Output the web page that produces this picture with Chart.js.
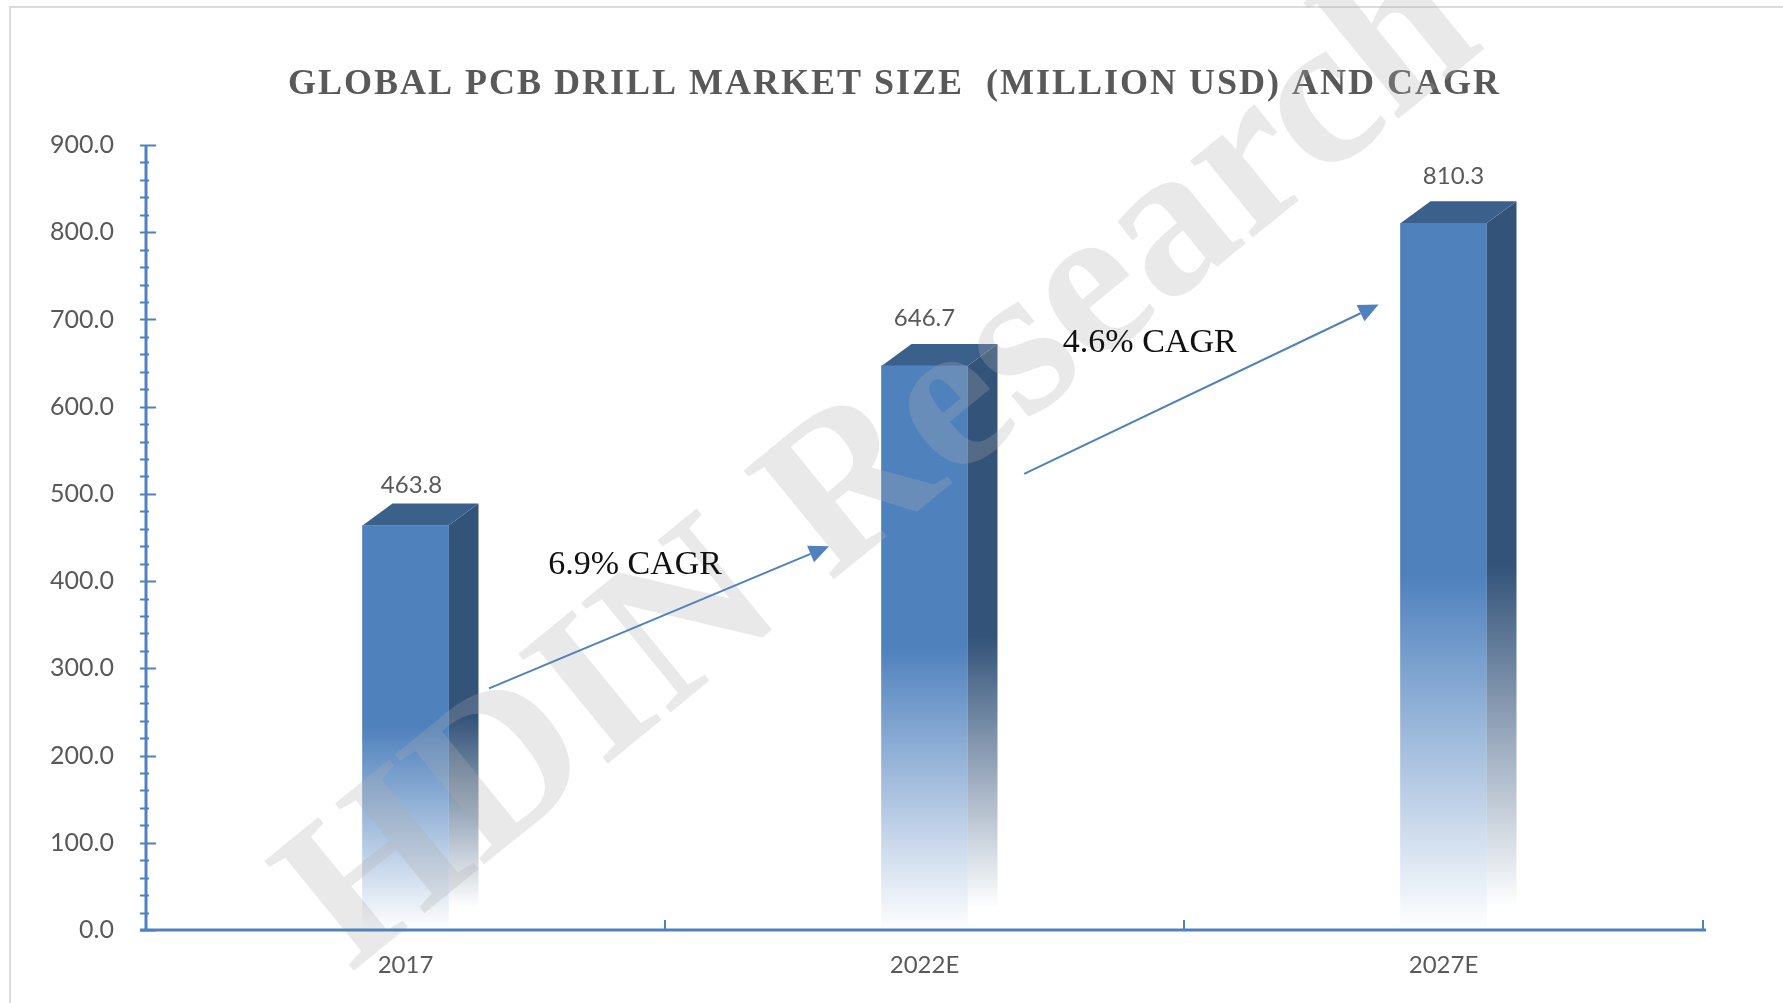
<!DOCTYPE html>
<html><head><meta charset="utf-8">
<style>html,body{margin:0;padding:0;background:#fff;overflow:hidden}#w{width:1783px;height:1003px}canvas{display:block;filter:blur(0.5px)}</style>
<script src="https://cdn.jsdelivr.net/npm/chart.js@4/dist/chart.umd.min.js"></script>
</head><body><div id="w"><canvas id="c" width="1783" height="1003"></canvas></div>
<script>
const categories = ['2017', '2022E', '2027E'];
const marketSize = [463.8, 646.7, 810.3];
const titleText = 'GLOBAL PCB DRILL MARKET SIZE  (MILLION USD) AND CAGR';
const watermarkText = 'HDIN Research';
const cagrLabels = ['6.9% CAGR', '4.6% CAGR'];
const cagrLabelCat = [0.4425, 1.434];
const cagrLabelVal = [418.5, 672.5];
const arrowFromCat = [0.161, 1.192];
const arrowFromVal = [277, 523];
const arrowToCat = [0.816, 1.875];
const arrowToVal = [440, 717];

const BLUE = '#4f81bd', SIDE = '#335379', TOP = '#3c608c', TXT = '#595959';
const DEPTH_X = 30, DEPTH_Y = 22;
const valueLabelDX = [6, 0, 10], valueLabelDY = [-18, -26, -25];

function fade(ctx, y0, y1, color) {
  const g = ctx.createLinearGradient(0, y0, 0, y1);
  g.addColorStop(0, color); g.addColorStop(0.5, color); g.addColorStop(1, 'rgba(255,255,255,1)');
  return g;
}
const extras = {
  id: 'extras',
  afterLayout(chart) {
    const t = chart.titleBlock;
    if (t && !t._spaced) {
      const orig = t.draw;
      t.draw = function () {
        const c = chart.ctx;
        c.save();
        c.translate(43, 0);
        c.letterSpacing = '2px';
        orig.call(this);
        c.letterSpacing = '0px';
        c.restore();
      };
      t._spaced = true;
    }
  },
  beforeDraw(chart) {
    const c = chart.ctx;
    c.save(); c.fillStyle = '#fff'; c.fillRect(0, 0, 1783, 1003);
    c.strokeStyle = '#dcdcdc'; c.lineWidth = 2;
    c.beginPath(); c.moveTo(10, 1003); c.lineTo(10, 7); c.lineTo(1783, 7); c.stroke();
    c.restore();
  },
  beforeDatasetsDraw(chart) {
    const c = chart.ctx, meta = chart.getDatasetMeta(0);
    meta.data.forEach(b => {
      const p = b.getProps(['x', 'y', 'base', 'width'], true);
      const L = p.x - p.width / 2, R = p.x + p.width / 2;
      c.save();
      c.fillStyle = fade(c, p.y, p.base - DEPTH_Y, SIDE);
      c.beginPath(); c.moveTo(R, p.y); c.lineTo(R + DEPTH_X, p.y - DEPTH_Y); c.lineTo(R + DEPTH_X, p.base - DEPTH_Y); c.lineTo(R, p.base); c.closePath(); c.fill();
      c.fillStyle = TOP;
      c.beginPath(); c.moveTo(L, p.y); c.lineTo(L + DEPTH_X, p.y - DEPTH_Y); c.lineTo(R + DEPTH_X, p.y - DEPTH_Y); c.lineTo(R, p.y); c.closePath(); c.fill();
      c.restore();
    });
  },
  afterDatasetsDraw(chart) {
    const c = chart.ctx, x = chart.scales.x, y = chart.scales.y, meta = chart.getDatasetMeta(0);
    // value labels
    c.save();
    c.font = '24px Lato'; c.fillStyle = TXT; c.textAlign = 'center'; c.textBaseline = 'middle';
    meta.data.forEach((b, i) => {
      c.fillText(marketSize[i].toFixed(1), b.x + valueLabelDX[i], b.y - DEPTH_Y + valueLabelDY[i]);
    });
    // watermark
    c.translate(351, 973); c.rotate(-39.2 * Math.PI / 180);
    c.font = 'bold 216px "Liberation Serif"'; c.fillStyle = 'rgba(172,172,172,0.27)';
    c.textAlign = 'left'; c.textBaseline = 'alphabetic';
    c.fillText(watermarkText, 0, 0);
    c.restore();
    // axes
    c.save();
    c.strokeStyle = BLUE; c.lineCap = 'butt';
    y.ticks.forEach(t => {
      const py = Math.round(y.getPixelForValue(t.value)) + 0.5, major = t.value % 100 === 0;
      c.lineWidth = 2;
      c.beginPath(); c.moveTo(x.left - 6, py); c.lineTo(x.left + (major ? 10 : 3), py); c.stroke();
    });
    c.lineWidth = 2;
    for (let i = 0; i <= categories.length; i++) {
      const px = Math.round(x.left + i * x.width / categories.length);
      c.beginPath(); c.moveTo(px, y.bottom); c.lineTo(px, y.bottom - 10); c.stroke();
    }
    c.lineWidth = 3;
    c.beginPath(); c.moveTo(x.left, y.top); c.lineTo(x.left, y.bottom + 1); c.stroke();
    c.beginPath(); c.moveTo(x.left - 6, y.bottom); c.lineTo(x.right + 3, y.bottom); c.stroke();
    c.restore();
    // arrows and CAGR labels
    c.save();
    arrowFromCat.forEach((_, i) => {
      const x0 = x.getPixelForValue(arrowFromCat[i]), y0 = y.getPixelForValue(arrowFromVal[i]);
      const x1 = x.getPixelForValue(arrowToCat[i]), y1 = y.getPixelForValue(arrowToVal[i]);
      const a = Math.atan2(y1 - y0, x1 - x0), h = 20, w = 9;
      const bx = x1 - h * Math.cos(a), by = y1 - h * Math.sin(a);
      c.strokeStyle = BLUE; c.fillStyle = BLUE; c.lineWidth = 2;
      c.beginPath(); c.moveTo(x0, y0); c.lineTo(bx, by); c.stroke();
      c.beginPath(); c.moveTo(x1, y1);
      c.lineTo(bx + w * Math.sin(a), by - w * Math.cos(a));
      c.lineTo(bx - w * Math.sin(a), by + w * Math.cos(a));
      c.closePath(); c.fill();
      c.font = '34px "Liberation Serif"'; c.fillStyle = '#111'; c.textAlign = 'center'; c.textBaseline = 'middle';
      c.fillText(cagrLabels[i], x.getPixelForValue(cagrLabelCat[i]), y.getPixelForValue(cagrLabelVal[i]));
    });
    c.restore();
  }
};
new Chart(document.getElementById('c'), {
  type: 'bar',
  data: { labels: categories, datasets: [{
    data: marketSize,
    barThickness: 86,
    backgroundColor(ctx) {
      const s = ctx.chart.scales.y;
      if (!s || ctx.dataIndex === undefined) return BLUE;
      const y0 = s.getPixelForValue(marketSize[ctx.dataIndex]), y1 = s.getPixelForValue(0);
      if (!isFinite(y0) || !isFinite(y1)) return BLUE;
      return fade(ctx.chart.ctx, y0, y1, BLUE);
    }
  }] },
  options: {
    responsive: false, animation: false,
    layout: { padding: { left: 0, right: 80, top: 0, bottom: 0 } },
    plugins: {
      legend: { display: false }, tooltip: { enabled: false },
      title: { display: true, text: titleText, color: TXT,
        font: { family: '"Liberation Serif"', size: 36, weight: 'bold' },
        padding: { top: 63, bottom: 38.8 } }
    },
    scales: {
      x: {
        grid: { display: false }, border: { display: false },
        ticks: { color: TXT, font: { family: 'Lato', size: 24 }, padding: 13 },
        afterFit(s) { s.height = 73; }
      },
      y: {
        min: 0, max: 900, grid: { display: false }, border: { display: false },
        ticks: { stepSize: 20, autoSkip: false, color: TXT, font: { family: 'Lato', size: 25 }, padding: 24,
          callback: v => v % 100 === 0 ? v.toFixed(1) : '' },
        afterFit(s) { s.width = 146; }
      }
    }
  },
  plugins: [extras]
});
</script></body></html>
